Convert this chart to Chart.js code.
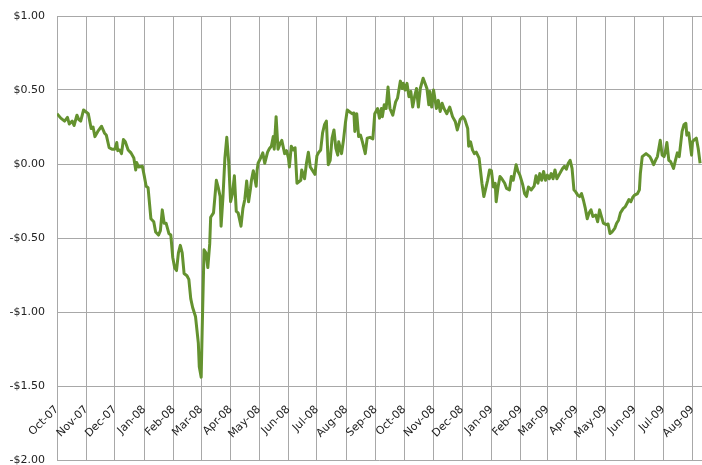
<!DOCTYPE html>
<html>
<head>
<meta charset="utf-8">
<script src="https://cdn.jsdelivr.net/npm/chart.js@4.4.0/dist/chart.umd.min.js"></script>
<style>
    html, body { margin: 0; padding: 0; background: #ffffff; }
</style>
</head>
<body>
<canvas id="spreadChart" width="702" height="465"></canvas>
<script>

// Month gridlines, in days counted from 1 Oct 2007.
var monthDays = [0, 31, 61, 92, 123, 152, 183, 213, 244, 274, 305, 336,
    366, 397, 427, 458, 489, 517, 548, 578, 609, 639, 670];

var monthLabels = ['Oct-07', 'Nov-07', 'Dec-07', 'Jan-08', 'Feb-08', 'Mar-08',
    'Apr-08', 'May-08', 'Jun-08', 'Jul-08', 'Aug-08', 'Sep-08', 'Oct-08',
    'Nov-08', 'Dec-08', 'Jan-09', 'Feb-09', 'Mar-09', 'Apr-09', 'May-09',
    'Jun-09', 'Jul-09', 'Aug-09'];

var yTickValues = [1, 0.5, 0, -0.5, -1, -1.5, -2];

// Observation dates (days from 1 Oct 2007) and the spread in dollars.
var dayOffsets = [
    0, 4, 8, 11, 13, 16, 18, 21, 23, 25, 28, 31, 33, 36, 38, 40, 43, 47, 50, 52,
    55, 58, 61, 63, 64, 66, 68, 70, 72, 75, 78, 81, 83, 84, 86, 90, 92, 94, 96, 99,
    102, 104, 107, 109, 111, 113, 115, 118, 120, 122, 124, 126, 128, 130, 132, 134, 137, 139, 141, 143,
    146, 149, 150, 152, 153, 155, 157, 159, 161, 162, 165, 168, 170, 172, 173, 175, 177, 179, 181, 183,
    185, 187, 189, 191, 194, 196, 198, 200, 202, 204, 205, 207, 210, 211, 212, 215, 217, 219, 222, 224,
    226, 228, 229, 231, 233, 235, 237, 240, 242, 244, 245, 247, 249, 251, 253, 255, 257, 258, 261, 263,
    265, 267, 269, 272, 274, 276, 278, 280, 282, 284, 286, 288, 290, 292, 294, 296, 297, 300, 302, 304,
    306, 308, 311, 313, 314, 316, 318, 320, 322, 325, 327, 330, 333, 335, 338, 340, 342, 343, 345, 347,
    349, 351, 354, 357, 359, 362, 364, 365, 367, 369, 371, 373, 375, 377, 379, 381, 383, 386, 388, 390,
    392, 393, 395, 397, 400, 402, 404, 406, 408, 411, 414, 417, 420, 422, 425, 428, 430, 433, 434, 436,
    438, 440, 442, 445, 448, 450, 452, 454, 456, 458, 460, 462, 463, 465, 467, 469, 472, 474, 477, 479,
    481, 484, 486, 488, 491, 493, 495, 497, 500, 503, 505, 507, 509, 511, 513, 515, 517, 519, 521, 523,
    525, 527, 530, 533, 535, 537, 539, 541, 543, 545, 547, 549, 551, 553, 555, 557, 559, 561, 563, 565,
    568, 570, 572, 574, 576, 579, 581, 583, 585, 588, 590, 592, 594, 597, 599, 601, 603, 605, 607, 609,
    612, 614, 615, 617, 619, 621, 623, 625, 627, 629, 631, 633, 636, 638, 640, 641, 643, 645, 647, 650,
    652, 654, 656, 659, 661, 663, 664, 666, 669, 670, 672, 674, 676, 678
];

var spreadValues = [
    0.34, 0.31, 0.29, 0.315, 0.27, 0.29, 0.26, 0.33, 0.30, 0.29, 0.365, 0.35, 0.34, 0.24, 0.25, 0.185, 0.22, 0.255, 0.21, 0.195,
    0.11, 0.10, 0.10, 0.145, 0.09, 0.095, 0.07, 0.165, 0.15, 0.095, 0.075, 0.04, -0.04, 0.01, -0.02, -0.015, -0.08, -0.15, -0.16, -0.37,
    -0.39, -0.46, -0.48, -0.45, -0.31, -0.40, -0.40, -0.47, -0.48, -0.63, -0.70, -0.72, -0.60, -0.55, -0.60, -0.74, -0.755, -0.78, -0.91, -0.97,
    -1.03, -1.21, -1.37, -1.44, -1.14, -0.58, -0.60, -0.70, -0.54, -0.36, -0.33, -0.11, -0.16, -0.22, -0.42, -0.22, 0.04, 0.18, 0.015, -0.255,
    -0.20, -0.08, -0.32, -0.33, -0.42, -0.30, -0.24, -0.115, -0.255, -0.165, -0.11, -0.045, -0.15, -0.04, 0.005, 0.045, 0.075, 0.005, 0.08, 0.105,
    0.12, 0.185, 0.10, 0.32, 0.10, 0.135, 0.16, 0.07, 0.09, 0.04, -0.02, 0.12, 0.095, 0.11, -0.13, -0.12, -0.11, -0.04, -0.10, 0.005,
    0.08, -0.02, -0.04, -0.07, 0.055, 0.08, 0.095, 0.21, 0.265, 0.29, -0.005, 0.025, 0.175, 0.23, 0.105, 0.06, 0.15, 0.07, 0.16, 0.275,
    0.365, 0.355, 0.34, 0.345, 0.22, 0.34, 0.185, 0.195, 0.15, 0.07, 0.175, 0.18, 0.17, 0.34, 0.375, 0.31, 0.375, 0.32, 0.40, 0.375,
    0.52, 0.375, 0.33, 0.42, 0.445, 0.56, 0.51, 0.545, 0.50, 0.545, 0.455, 0.49, 0.385, 0.455, 0.51, 0.385, 0.51, 0.58, 0.545, 0.51,
    0.40, 0.49, 0.385, 0.50, 0.375, 0.43, 0.355, 0.41, 0.375, 0.34, 0.385, 0.32, 0.285, 0.23, 0.30, 0.32, 0.30, 0.24, 0.12, 0.15,
    0.095, 0.07, 0.08, 0.04, -0.13, -0.22, -0.165, -0.11, -0.04, -0.045, -0.155, -0.13, -0.255, -0.155, -0.085, -0.10, -0.13, -0.165, -0.175, -0.085,
    -0.11, -0.005, -0.05, -0.075, -0.14, -0.20, -0.22, -0.155, -0.175, -0.15, -0.08, -0.13, -0.065, -0.11, -0.05, -0.11, -0.075, -0.10, -0.065, -0.10,
    -0.04, -0.10, -0.065, -0.03, -0.015, -0.035, 0.005, 0.025, -0.03, -0.175, -0.19, -0.21, -0.22, -0.20, -0.245, -0.30, -0.37, -0.33, -0.31, -0.355,
    -0.345, -0.39, -0.31, -0.355, -0.40, -0.41, -0.405, -0.47, -0.46, -0.435, -0.40, -0.38, -0.33, -0.30, -0.29, -0.265, -0.24, -0.255, -0.225, -0.21,
    -0.20, -0.175, -0.065, 0.05, 0.06, 0.07, 0.06, 0.05, 0.025, -0.005, 0.025, 0.05, 0.16, 0.06, 0.05, 0.07, 0.145, 0.025, 0.015, -0.03,
    0.025, 0.075, 0.05, 0.22, 0.265, 0.275, 0.195, 0.21, 0.06, 0.15, 0.165, 0.175, 0.105, 0.005
];

var lineColor = '#64922f';
var gridColor = '#a8a8a8';
var textColor = '#222222';

var points = dayOffsets.map(function (d, i) {
    return { x: d, y: spreadValues[i] };
});

var formatDollar = function (v) {
    var s = '$' + Math.abs(v).toFixed(2);
    return v < 0 ? '-' + s : s;
};

var config = {
    type: 'line',
    data: {
        datasets: [
            {
                data: points,
                borderColor: lineColor,
                borderWidth: 3,
                pointRadius: 0,
                tension: 0,
                borderJoinStyle: 'round',
                fill: false
            }
        ]
    },
    options: {
        responsive: false,
        animation: false,
        devicePixelRatio: 1,
        layout: {
            padding: { top: 16, bottom: 5, left: 0, right: 0 }
        },
        plugins: {
            legend: { display: false },
            tooltip: { enabled: false }
        },
        scales: {
            x: {
                type: 'linear',
                // month labels sit inside the plot, just under the -$1.50 line
                position: { y: -1.5 },
                min: 0,
                max: 680,
                afterBuildTicks: function (scale) {
                    scale.ticks = monthDays.map(function (d) { return { value: d }; });
                },
                afterFit: function (scale) {
                    scale.paddingLeft = 0;
                    scale.paddingRight = 0;
                },
                grid: {
                    color: gridColor,
                    lineWidth: 1,
                    drawTicks: false
                },
                border: { display: false },
                ticks: {
                    autoSkip: false,
                    minRotation: 45,
                    maxRotation: 45,
                    padding: 17,
                    color: textColor,
                    font: { family: 'DejaVu Sans', size: 11 },
                    callback: function (value, index) {
                        return monthLabels[index];
                    }
                }
            },
            y: {
                min: -2,
                max: 1,
                afterBuildTicks: function (scale) {
                    scale.ticks = yTickValues.map(function (v) { return { value: v }; });
                },
                afterFit: function (scale) {
                    scale.width = 57;
                    scale.paddingTop = 0;
                    scale.paddingBottom = 0;
                },
                grid: {
                    color: gridColor,
                    lineWidth: 1,
                    drawTicks: false
                },
                border: { display: false },
                ticks: {
                    padding: 12,
                    color: textColor,
                    font: { family: 'DejaVu Sans', size: 11 },
                    callback: function (value) {
                        return formatDollar(value);
                    }
                }
            }
        }
    }
};

var ctx = document.getElementById('spreadChart').getContext('2d');
var spreadChart = new Chart(ctx, config);

</script>
</body>
</html>
